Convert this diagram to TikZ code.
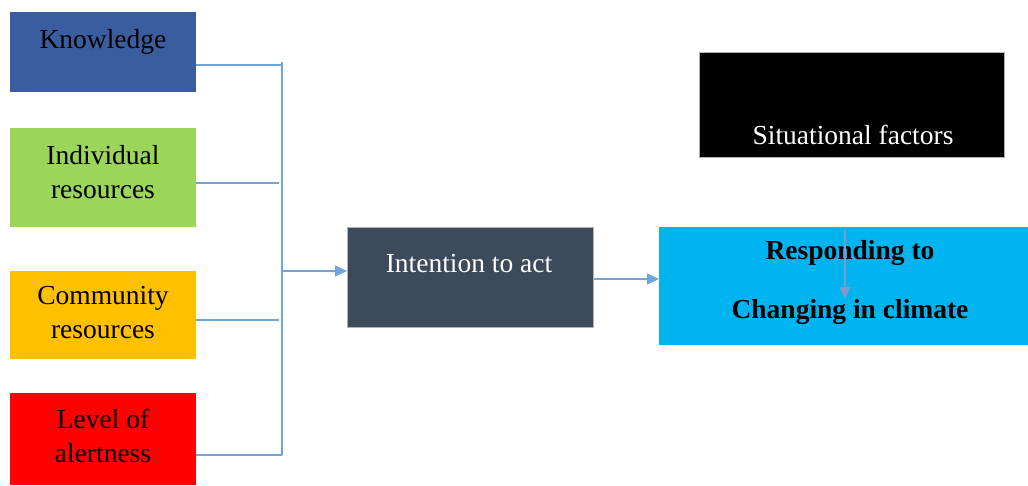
\documentclass[tikz,border=0pt]{standalone}
\usepackage{fontspec}
\setmainfont{Liberation Serif}
\newfontfamily\tnr{Liberation Serif}
\usetikzlibrary{arrows.meta}
\definecolor{kblue}{HTML}{3A5DA0}
\definecolor{igreen}{HTML}{9BD55A}
\definecolor{cgold}{HTML}{FFC000}
\definecolor{lred}{HTML}{FF0000}
\definecolor{islate}{HTML}{3D4A5C}
\definecolor{rcyan}{HTML}{00B5EF}
\definecolor{conn}{HTML}{6FA5DA}
\definecolor{conn2}{HTML}{7A9AD0}
\begin{document}
\begin{tikzpicture}[x=1pt,y=-1pt,
  box/.style={draw=none,inner sep=0pt,anchor=north west},
  txt/.style={align=center,inner sep=0pt,font=\tnr\fontsize{27.5}{34}\selectfont},
  link/.style={draw=conn,line width=1.2pt},
  arr/.style={link,-{Triangle[length=12pt,width=11pt]}}]
\useasboundingbox (0,0) rectangle (1028,485);
% boxes
\node[box,fill=kblue,minimum width=186pt,minimum height=80pt] (know) at (10,12) {};
\node[box,fill=igreen,minimum width=186pt,minimum height=99pt] (indiv) at (10,128) {};
\node[box,fill=cgold,minimum width=186pt,minimum height=88pt] (comm) at (10,271) {};
\node[box,fill=lred,minimum width=186pt,minimum height=92pt] (level) at (10,393) {};
\node[box,fill=islate,draw=gray!60,line width=0.6pt,minimum width=246pt,minimum height=100pt] (intent) at (347,227) {};
\node[box,fill=rcyan,minimum width=369pt,minimum height=118pt] (resp) at (659,227) {};
\node[box,fill=black,draw=gray!60,line width=0.6pt,minimum width=305pt,minimum height=105pt] (situ) at (699,52) {};
% texts
\node[txt] (tknow) at (103,42) {Knowledge};
\node[txt] (tindiv) at (103,172) {Individual\\resources};
\node[txt] (tcomm) at (103,313) {Community\\resources};
\node[txt] (tlevel) at (103,436) {Level of\\alertness};
\node[txt,text=white] (tint) at (469,264) {Intention to act};
\node[txt,text=white] (tsit) at (853,135) {Situational factors};
\node[txt,font=\tnr\fontsize{27.5}{34}\selectfont\bfseries] (tresp1) at (850,253) {Responding to};
\node[txt,font=\tnr\fontsize{27.5}{34}\selectfont\bfseries] (tresp2) at (850,312) {Changing in climate};
% connectors
\coordinate (busTop) at (282,62);
\coordinate (busBot) at (282,455);
\coordinate (busMid) at (282,271);
\draw[link] (busTop) -- (busBot);
\draw[link] (know.east |- 0,65) -- (282,65);
\draw[link] (indiv.east |- 0,183) -- (279,183);
\draw[link] (comm.east |- 0,320) -- (279,320);
\draw[link] (level.east |- busBot) -- (busBot);
\draw[arr] (busMid) -- (intent.west |- busMid);
\draw[arr] (intent.east |- 0,279) -- (resp.west |- 0,279);
\coordinate (sArrS) at (845,229);
\coordinate (sArrE) at (845,299);
\draw[link,draw=conn2,-{Triangle[length=12pt,width=11pt]}] (sArrS) -- (sArrE);
\end{tikzpicture}
\end{document}
